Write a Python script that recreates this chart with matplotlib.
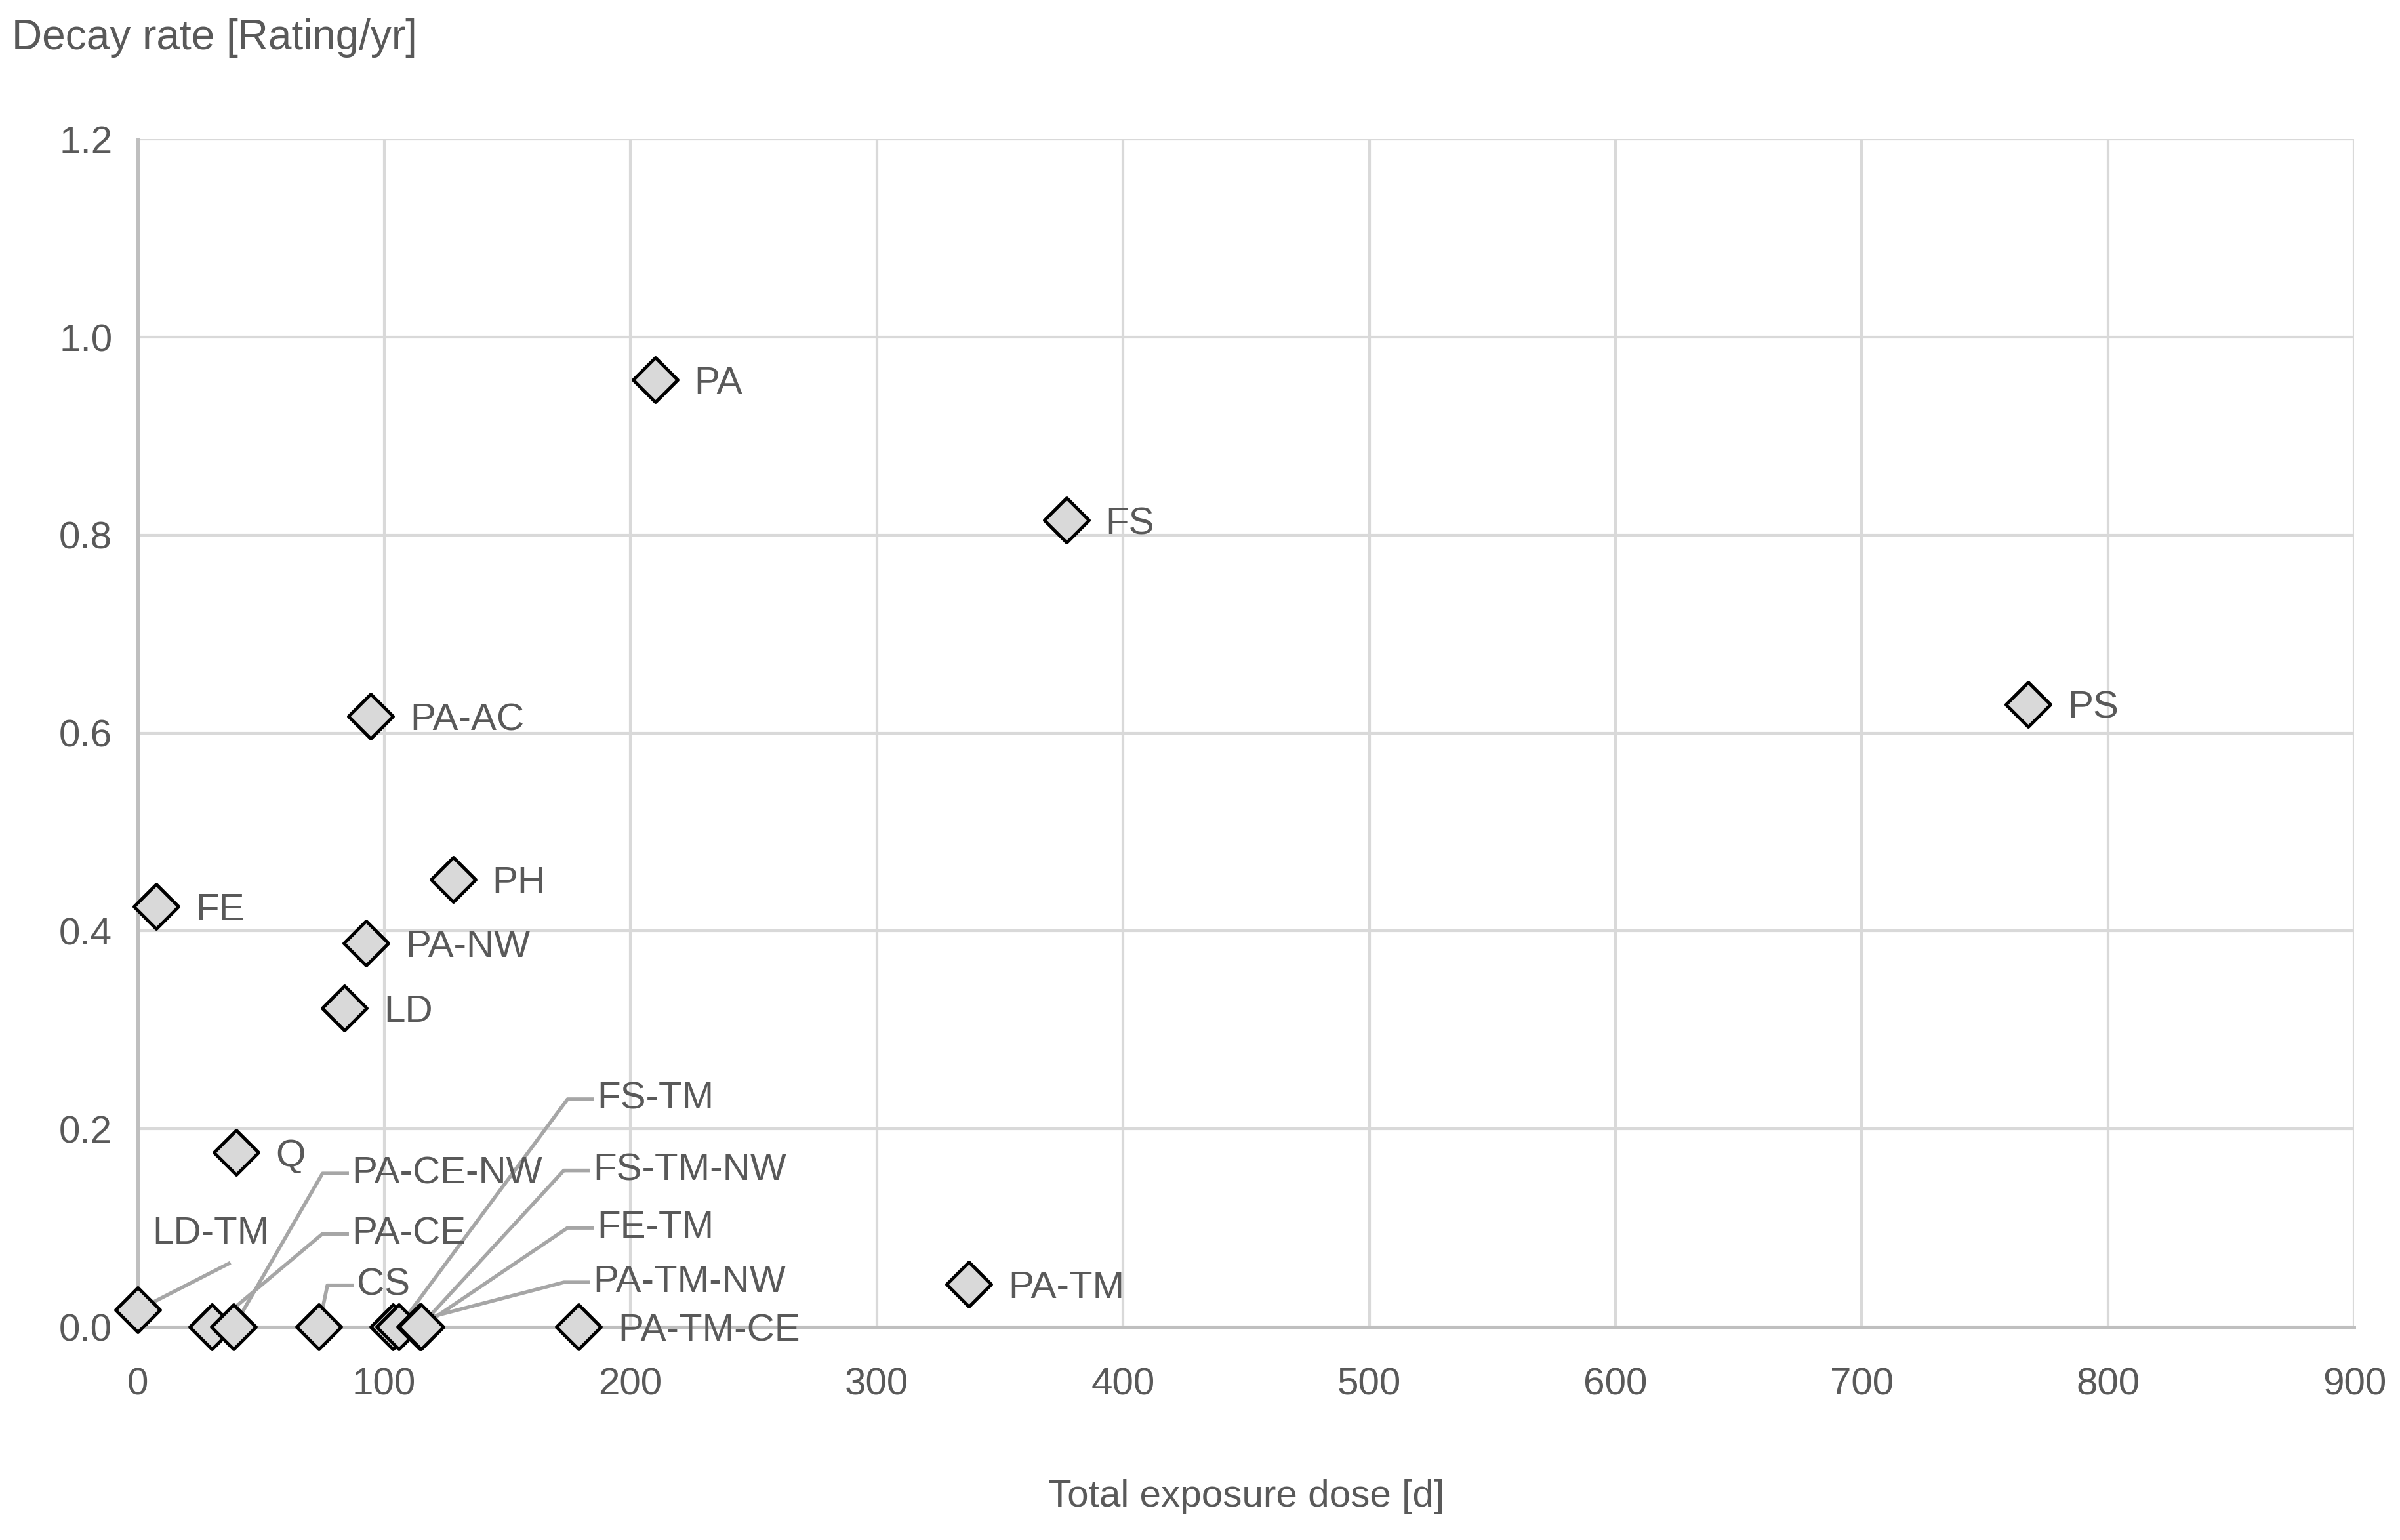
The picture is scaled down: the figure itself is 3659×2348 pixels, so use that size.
import matplotlib.pyplot as plt
import numpy as np

plt.rcParams['font.family'] = ['Liberation Sans Narrow', 'Liberation Sans', 'DejaVu Sans']

# Data
names = ['PA', 'FS', 'PS', 'PA-AC', 'PH', 'FE', 'PA-NW', 'LD', 'Q', 'PA-TM', 'PA-TM-CE',
         'LD-TM', 'PA-CE', 'PA-CE-NW', 'CS', 'PA-TM-NW', 'FS-TM', 'FS-TM-NW', 'FE-TM']
dose = [210, 377, 767.5, 94.5, 128, 7.5, 92.6, 84, 40, 337.5, 179,
        0, 30, 39, 73.5, 103.5, 106, 114.5, 115]
decay = [0.957, 0.815, 0.629, 0.617, 0.452, 0.425, 0.388, 0.322, 0.176, 0.043, 0.0,
         0.017, 0.0, 0.0, 0.0, 0.0, 0.0, 0.0, 0.0]

# labels with leader lines: name -> text position (data coords)
leader_pos = {
    'LD-TM': (6, 0.094),
    'PA-CE': (87, 0.094),
    'PA-CE-NW': (87, 0.155),
    'CS': (89, 0.042),
    'PA-TM-NW': (185, 0.045),
    'FS-TM': (186.5, 0.23),
    'FS-TM-NW': (185, 0.158),
    'FE-TM': (186.5, 0.10),
}

grey = '#595959'
fs = 21
fig = plt.figure(figsize=(18.295, 11.74), dpi=200)
ax = fig.add_axes([0.0574, 0.1384, 0.9236, 0.7712])

ax.scatter(dose, decay, marker='D', s=300, facecolor='#d9d9d9', edgecolor='black',
           linewidth=1.8, zorder=3, clip_on=False)

for n, x, y in zip(names, dose, decay):
    if n in leader_pos:
        tx, ty = leader_pos[n]
        ax.text(tx, ty, n, fontsize=fs, color=grey, ha='left', va='center', zorder=4)
        if n == 'LD-TM':
            ax.plot([x, x + 37], [y, ty - 0.03], color='#a6a6a6', lw=2, zorder=2)
        else:
            ax.plot([x, tx - 12, tx - 2], [y, ty, ty], color='#a6a6a6', lw=2, zorder=2)
    else:
        ax.text(x + 16, y - 0.004, n, fontsize=fs, color=grey, ha='left', va='center', zorder=4)

ax.set_xlim(0, 900)
ax.set_ylim(0, 1.2)
ax.set_xticks(np.arange(0, 901, 100))
ax.set_yticks(np.arange(0, 1.21, 0.2))
ax.set_yticklabels([f'{v:.1f}' for v in np.arange(0, 1.21, 0.2)])
ax.grid(True, color='#d9d9d9', lw=1.5)
ax.set_axisbelow(True)
for s in ['top', 'right']:
    ax.spines[s].set_visible(False)
for s in ['left', 'bottom']:
    ax.spines[s].set_color('#bfbfbf')
    ax.spines[s].set_linewidth(1.8)
ax.tick_params(length=0, labelsize=fs, colors=grey)
ax.tick_params(axis='x', pad=22)
ax.tick_params(axis='y', pad=14)

fig.text(0.005, 0.988, 'Decay rate [Rating/yr]', fontsize=23, color=grey, ha='left', va='top')
ax.set_xlabel('Total exposure dose [d]', fontsize=fs, color=grey, labelpad=42)

fig.savefig('out.png', dpi=200)
